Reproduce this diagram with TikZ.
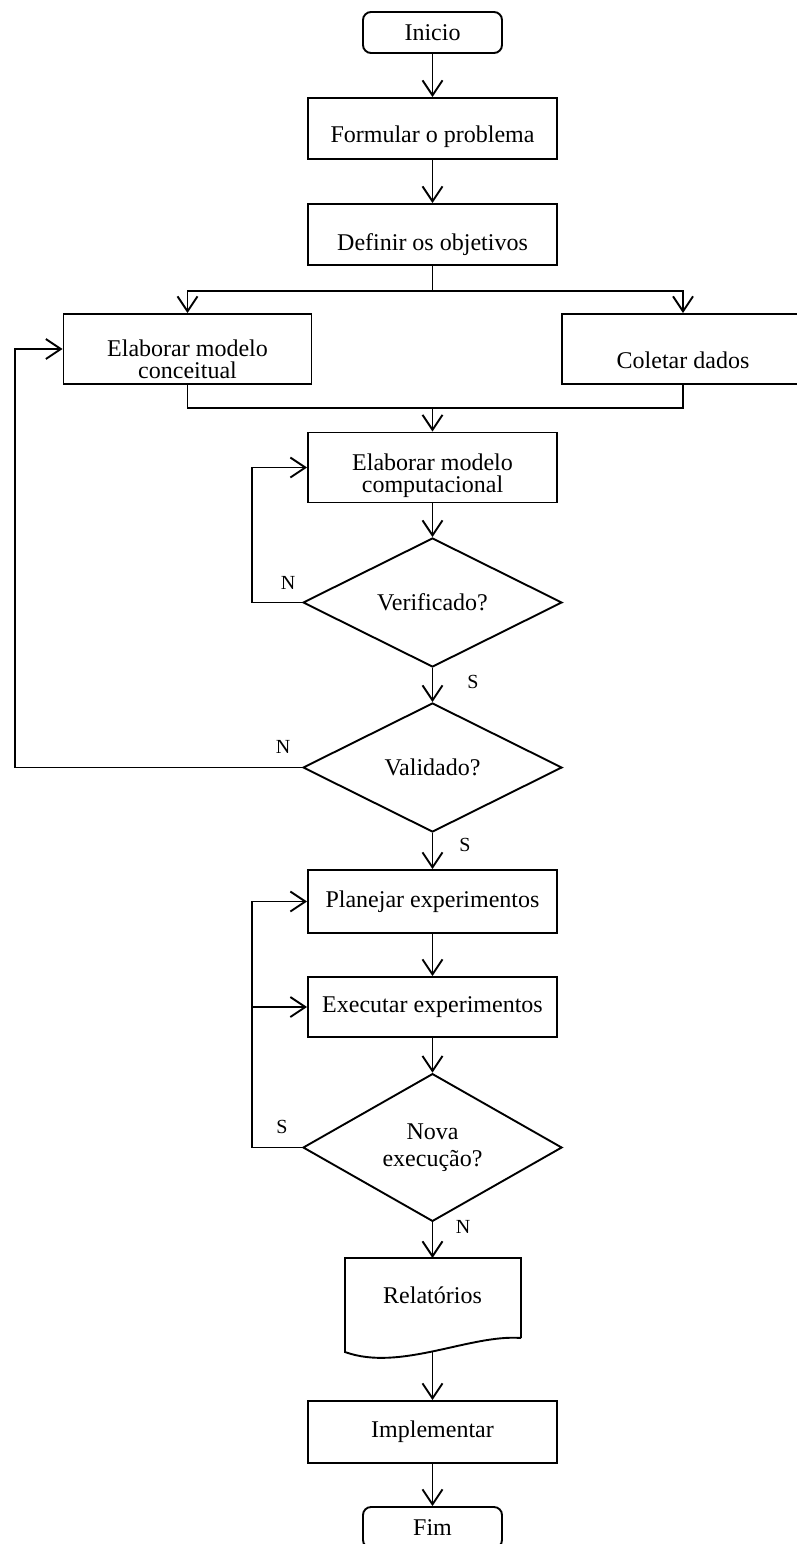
\documentclass[tikz,border=0pt]{standalone}
\usepackage{fontspec}
\setmainfont{Liberation Serif}
\usetikzlibrary{arrows.meta,shapes.geometric}
\begin{document}
\begin{tikzpicture}[x=1pt,y=-1pt,
  every node/.style={font=\fontsize{24}{22}\selectfont},
  proc/.style={draw, line width=1.9pt, minimum width=249pt, minimum height=61pt,
    inner sep=0pt, align=center},
  term/.style={proc, rounded corners=8pt, minimum width=139pt, minimum height=41pt},
  decision/.style={draw, diamond, line width=1.9pt, minimum width=259pt,
    minimum height=129pt, inner sep=0pt, align=center},
  txt/.style={inner sep=0pt, align=center},
  tag/.style={inner sep=0pt, font=\fontsize{20}{20}\selectfont},
  flow/.style={line width=1.9pt, -{Straight Barb[length=15pt,width=20pt]}},
  link/.style={line width=1.9pt},
]
% page area
\fill[white] (0,0) rectangle (797,1544);
\useasboundingbox (0,0) rectangle (797,1544);
\clip (0,0) rectangle (797,1544);

% start and first steps
\node[term] (inicio) at (432.5,32.5) {Inicio};
\node[proc] (formular) at (432.5,128.5) {};
\node[txt] (formular-t) at (432.5,137) {Formular o problema};
\node[proc] (definir) at (432.5,234.5) {};
\node[txt] (definir-t) at (432.5,245) {Definir os objetivos};

% parallel branch
\node[proc, minimum width=248pt, minimum height=70pt] (conceitual) at (187.5,349) {};
\node[txt] (conceitual-t) at (187.5,359) {Elaborar modelo\\conceitual};
\node[proc, minimum width=242pt, minimum height=70pt] (coletar) at (683,349) {};
\node[txt] (coletar-t) at (683,360) {Coletar dados};

% computational model and checks
\node[proc, minimum height=70pt] (computacional) at (432.5,467.5) {};
\node[txt] (computacional-t) at (432.5,476) {Elaborar modelo\\computacional};
\node[decision] (verificado) at (432.5,602.5) {Verificado?};
\node[decision] (validado) at (432.5,767.5) {Validado?};

% experiments
\node[proc, minimum height=63pt] (planejar) at (432.5,901.5) {Planejar experimentos};
\node[proc, minimum height=60pt] (executar) at (432.5,1007) {Executar experimentos};
\node[decision] (nova) at (432.5,1147.5) {Nova\\[5pt]execução?};

% report (document shape)
\draw[link] (521,1338) -- (521,1258) -- (345,1258) -- (345,1352)
  .. controls (400,1372) and (470,1334) .. (521,1338);
\coordinate (reltop) at (432.5,1258);
\coordinate (relbot) at (432.5,1351);
\node[txt] (relatorios) at (432.5,1295) {Relatórios};

% end
\node[proc, minimum height=62pt] (implementar) at (432.5,1432) {Implementar};
\node[term] (fim) at (432.5,1527.5) {Fim};

% main flow
\draw[flow] (inicio) -- (formular);
\draw[flow] (formular) -- (definir);
\coordinate (split) at (432.5,291);
\draw[link] (definir) -- (split);
\draw[flow] (split) -| (conceitual);
\draw[flow] (split) -| (coletar);
\coordinate (merge) at (432.5,408);
\draw[link] (conceitual) |- (merge) -| (coletar);
\draw[flow] (merge) -- (computacional);
\draw[flow] (computacional) -- (verificado);
\draw[flow] (verificado) -- (validado);
\draw[flow] (validado) -- (planejar);
\draw[flow] (planejar) -- (executar);
\draw[flow] (executar) -- (nova);
\draw[flow] (nova) -- (reltop);
\draw[flow] (relbot) -- (implementar);
\draw[flow] (implementar) -- (fim);

% feedback loops
\draw[flow] (verificado.west) -- ++(-50,0) |- (computacional.west);
\draw[flow] (validado.west) -- (15,767.5) |- (conceitual.west);
\draw[link] (nova.west) -- ++(-50,0) coordinate (loopc);
\draw[flow] (loopc) |- (planejar.west);
\draw[flow] (loopc |- executar.west) -- (executar.west);

% branch labels
\node[tag] (n1) at (288,583) {N};
\node[tag] (s1) at (473,682) {S};
\node[tag] (n2) at (283,747) {N};
\node[tag] (s2) at (465,845) {S};
\node[tag] (s3) at (282,1127) {S};
\node[tag] (n3) at (463,1227) {N};
\end{tikzpicture}
\end{document}
